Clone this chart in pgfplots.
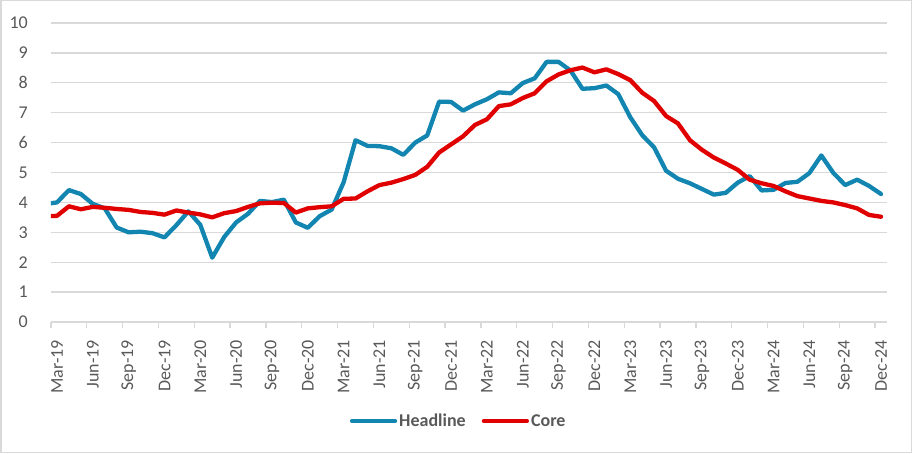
\documentclass[border=0pt]{standalone}
\usepackage{fontspec}
\setmainfont{Carlito}
\usepackage{pgfplots}
\pgfplotsset{compat=1.18}
\definecolor{headblue}{RGB}{18,133,176}
\definecolor{corered}{RGB}{224,0,0}
\definecolor{gridgray}{RGB}{217,217,217}
\definecolor{txtgray}{RGB}{89,89,89}

% month index: tick k = start of month k (k=0 is Mar-19), points sit mid-month
\pgfplotstableread{
x     headline core
-0.5  3.94  3.54
0.5   4.00  3.55
1.5   4.41  3.87
2.5   4.28  3.77
3.5   3.95  3.85
4.5   3.80  3.82
5.5   3.16  3.78
6.5   3.00  3.75
7.5   3.02  3.68
8.5   2.97  3.65
9.5   2.83  3.59
10.5  3.24  3.73
11.5  3.70  3.66
12.5  3.25  3.60
13.5  2.15  3.50
14.5  2.84  3.64
15.5  3.33  3.71
16.5  3.62  3.85
17.5  4.05  3.97
18.5  4.01  3.99
19.5  4.09  3.98
20.5  3.33  3.66
21.5  3.15  3.80
22.5  3.54  3.84
23.5  3.76  3.87
24.5  4.67  4.12
25.5  6.08  4.13
26.5  5.89  4.37
27.5  5.88  4.58
28.5  5.81  4.66
29.5  5.59  4.78
30.5  6.00  4.92
31.5  6.24  5.19
32.5  7.37  5.67
33.5  7.36  5.94
34.5  7.07  6.21
35.5  7.28  6.59
36.5  7.45  6.78
37.5  7.68  7.22
38.5  7.65  7.28
39.5  7.99  7.49
40.5  8.15  7.65
41.5  8.70  8.05
42.5  8.70  8.28
43.5  8.41  8.42
44.5  7.80  8.51
45.5  7.82  8.35
46.5  7.91  8.45
47.5  7.62  8.29
48.5  6.85  8.09
49.5  6.25  7.67
50.5  5.84  7.39
51.5  5.06  6.89
52.5  4.79  6.64
53.5  4.64  6.08
54.5  4.45  5.76
55.5  4.26  5.50
56.5  4.32  5.30
57.5  4.66  5.09
58.5  4.88  4.76
59.5  4.40  4.64
60.5  4.42  4.55
61.5  4.65  4.37
62.5  4.69  4.21
63.5  4.98  4.13
64.5  5.57  4.05
65.5  4.99  4.00
66.5  4.58  3.91
67.5  4.76  3.80
68.5  4.55  3.58
69.5  4.28  3.52
}\datatable

\begin{document}
\begin{tikzpicture}
\useasboundingbox (0,0) rectangle (912pt,453pt);
\draw[gridgray, line width=1.5pt] (0.75pt,0.75pt) rectangle (911.25pt,452.25pt);
\begin{axis}[
  at={(51pt,131pt)}, anchor=south west,
  scale only axis, width=836pt, height=299pt,
  xmin=0, xmax=70, ymin=0, ymax=10,
  axis x line*=bottom, axis y line*=left,
  x axis line style={gridgray, line width=1.4pt},
  y axis line style={draw=none},
  ymajorgrids, grid style={gridgray, line width=1.3pt},
  ytick={0,1,...,10},
  ytick style={draw=none},
  xtick={0,3,...,69},
  xticklabels={Mar-19,Jun-19,Sep-19,Dec-19,Mar-20,Jun-20,Sep-20,Dec-20,
    Mar-21,Jun-21,Sep-21,Dec-21,Mar-22,Jun-22,Sep-22,Dec-22,
    Mar-23,Jun-23,Sep-23,Dec-23,Mar-24,Jun-24,Sep-24,Dec-24},
  tick align=outside, major tick length=6pt,
  xtick style={gridgray, line width=1.3pt},
  /pgf/number format/assume math mode=true,
  tick label style={font=\fontsize{18}{20}\selectfont, text=txtgray},
  yticklabel style={anchor=east, inner sep=0pt, xshift=-17pt},
  xticklabel style={xshift=6pt, yshift=-12pt, rotate=90, anchor=east, inner sep=0pt},
  legend columns=2,
  legend image code/.code={\draw[#1] (0pt,0pt) -- (43pt,0pt);},
  legend style={at={(axis description cs:0.4877,-0.331)}, anchor=center,
    draw=none, fill=none, text=txtgray,
    font=\bfseries\fontsize{18}{20}\selectfont,
    /tikz/every even column/.append style={column sep=14pt}},
]
\addplot[headblue, line width=4.3pt, line cap=round, line join=round] table[x=x, y=headline] {\datatable};
\addlegendentry{Headline}
\addplot[corered, line width=4.3pt, line cap=round, line join=round] table[x=x, y=core] {\datatable};
\addlegendentry{Core}
\end{axis}
\end{tikzpicture}
\end{document}
